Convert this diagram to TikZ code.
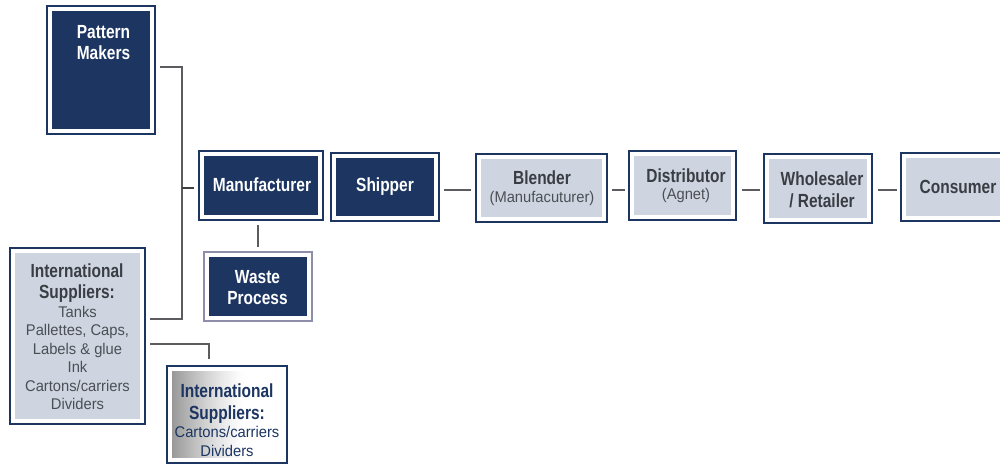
\documentclass[tikz,border=0pt]{standalone}
\usepackage{fontspec}
\setmainfont{Liberation Sans}
\newfontfamily\condfont{Liberation Sans}[FakeStretch=0.815]
\newfontfamily\regfont{Liberation Sans}[FakeStretch=0.95]
\usetikzlibrary{calc}
\definecolor{navy}{HTML}{1C3561}
\definecolor{pale}{HTML}{CFD5E0}
\definecolor{boldgray}{HTML}{3A3E44}
\definecolor{reggray}{HTML}{4B4F55}
\definecolor{linegray}{HTML}{5A5C60}
\definecolor{wasteedge}{HTML}{8E8EAA}
\tikzset{
  frame/.style={draw=navy, line width=2pt, fill=white, inner sep=0pt,
    path picture={\fill[#1] ($(path picture bounding box.north west)+(5pt,-5pt)$) rectangle ($(path picture bounding box.south east)+(-5pt,5pt)$);}},
  shadeframe/.style={draw=navy, line width=2pt, fill=white, inner sep=0pt,
    path picture={\foreach \i in {0,...,35}{
        \pgfmathsetmacro{\pct}{40*(1-\i/36)^1.3}
        \fill[black!\pct] ($(path picture bounding box.north west)+(5pt+2*\i pt,-5pt)$) rectangle ($(path picture bounding box.south west)+(7.3pt+2*\i pt,5pt)$);}}},
  btw/.style={font=\condfont\bfseries\fontsize{19}{21.5}\selectfont, text=white, align=center, inner sep=0pt},
  btg/.style={font=\condfont\bfseries\fontsize{19}{21.5}\selectfont, text=boldgray, align=center, inner sep=0pt},
  rtg/.style={font=\regfont\fontsize{15.5}{18.4}\selectfont, text=reggray, align=center, inner sep=0pt},
  conn/.style={draw=linegray, line width=1.2pt},
  stub/.style={draw=black!75, line width=2pt},
}
\begin{document}
\begin{tikzpicture}[x=1pt,y=-1pt]
\useasboundingbox (0,0) rectangle (1000,465);
\clip (0,0) rectangle (1000,465);
% boxes
\node[frame=navy, minimum width=108, minimum height=128] (pm) at (101,70) {};
\node[frame=navy, minimum width=124, minimum height=69] (mf) at (261,185.5) {};
\node[frame=navy, minimum width=108, minimum height=68] (sh) at (385,187) {};
\node[frame=pale, minimum width=131, minimum height=68] (bl) at (541.5,188) {};
\node[frame=pale, minimum width=107, minimum height=69] (di) at (682.5,185.5) {};
\node[frame=pale, minimum width=108, minimum height=69] (wr) at (818,188.5) {};
\node[frame=pale, minimum width=114, minimum height=68] (co) at (958,187) {};
\node[frame=navy, draw=wasteedge, line width=2.5pt, minimum width=108, minimum height=69] (ws) at (258,286.5) {};
\node[frame=pale, minimum width=135, minimum height=176] (isa) at (77.5,336) {};
\node[shadeframe, minimum width=120, minimum height=97] (isb) at (227,414.5) {};
% texts
\node[btw] (pmt) at (103.5,42.5) {Pattern\\Makers};
\node[btw] (mft) at (262,185) {Manufacturer};
\node[btw] (sht) at (385,187) {Shipper};
\node[btg] (blt) at (542,178) {Blender};
\node[rtg] (bls) at (542,198) {(Manufacuturer)};
\node[btg] (dit) at (686,176) {Distributor};
\node[rtg] (dis) at (686,195.5) {(Agnet)};
\node[btg] (wrt) at (822,190) {Wholesaler\\/ Retailer};
\node[btg] (cot) at (958,187) {Consumer};
\node[btw] (wst) at (257.5,287.5) {Waste\\Process};
\node[btg] (isah) at (77,283) {International\\Suppliers:};
\node[rtg] (isab) at (77.5,358) {Tanks\\Pallettes, Caps,\\Labels \& glue\\Ink\\Cartons/carriers\\Dividers};
\node[btg, text=navy] (isbh) at (227,403.5) {International\\Suppliers:};
\node[rtg, text=navy] (isbb) at (227,441.5) {Cartons/carriers\\Dividers};
% connectors
\coordinate (bt) at (182,67);
\coordinate (bb) at (182,319);
\coordinate (mj) at (182,188);
\coordinate (ij) at (209,344);
\coordinate (cy) at (0,190);
\draw[conn, shorten <=4pt, shorten >=4pt] (pm.east |- bt) -- (bt) -- (bb) -- (isa.east |- bb);
\draw[stub, shorten >=4pt] (mj) -- (mf.west |- mj);
\draw[conn, shorten <=4pt, shorten >=4pt] (ws.north |- mf.south) -- (ws.north);
\draw[conn, shorten <=4pt, shorten >=6pt] (isa.east |- ij) -- (ij) -- (ij |- isb.north);
\draw[conn, shorten <=4pt, shorten >=4pt] (sh.east |- cy) -- (bl.west |- cy);
\draw[conn, shorten <=4pt, shorten >=3pt] (bl.east |- cy) -- (di.west |- cy);
\draw[conn, shorten <=5pt, shorten >=3pt] (di.east |- cy) -- (wr.west |- cy);
\draw[conn, shorten <=5pt, shorten >=3pt] (wr.east |- cy) -- (co.west |- cy);
\end{tikzpicture}
\end{document}
